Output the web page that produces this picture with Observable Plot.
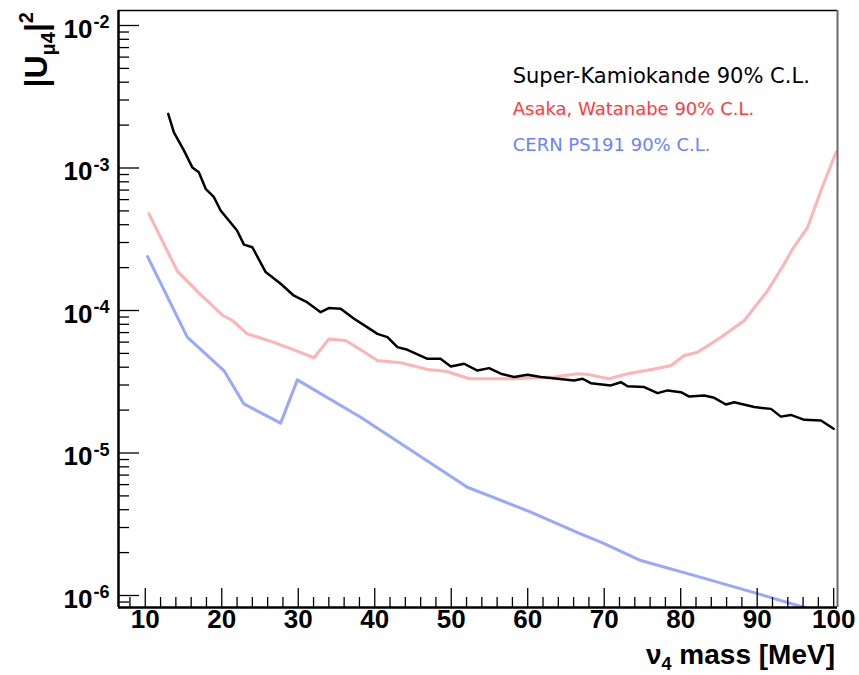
<!DOCTYPE html>
<html>
<head>
<meta charset="utf-8">
<script src="https://cdn.jsdelivr.net/npm/d3@7"></script>
<script src="https://cdn.jsdelivr.net/npm/@observablehq/plot@0.6"></script>
<style>
  html, body { margin: 0; padding: 0; background: #fff; }
  #chart svg { display: block; }
</style>
</head>
<body>
<div id="chart"></div>
<script>
// ---- data ----
const skMass = [13.0, 13.74, 15.05, 16.15, 17.0, 17.9, 18.98, 19.85, 22.0, 22.9, 24.0, 25.74, 27.7, 29.44, 31.2, 32.93, 34.0, 35.55, 37.3, 39.0, 40.35, 41.66, 42.97, 44.28, 46.9, 48.6, 49.94, 51.68, 53.43, 54.95, 56.48, 58.22, 59.97, 61.71, 63.9, 66.07, 67.17, 68.25, 70.87, 72.18, 73.05, 75.23, 76.98, 78.29, 80.03, 81.12, 83.08, 84.39, 85.92, 87.0, 89.62, 91.8, 93.1, 94.4, 96.16, 98.34, 100.0];
const skU2 = [2.4e-3, 1.78e-3, 1.33e-3, 1.01e-3, 9.35e-4, 7.14e-4, 6.24e-4, 5.03e-4, 3.64e-4, 2.9e-4, 2.78e-4, 1.86e-4, 1.54e-4, 1.27e-4, 1.14e-4, 9.73e-5, 1.04e-4, 1.03e-4, 8.75e-5, 7.64e-5, 6.86e-5, 6.5e-5, 5.53e-5, 5.3e-5, 4.58e-5, 4.58e-5, 4.04e-5, 4.23e-5, 3.79e-5, 3.94e-5, 3.6e-5, 3.41e-5, 3.54e-5, 3.41e-5, 3.32e-5, 3.23e-5, 3.32e-5, 3.09e-5, 2.98e-5, 3.14e-5, 2.94e-5, 2.9e-5, 2.63e-5, 2.75e-5, 2.67e-5, 2.49e-5, 2.53e-5, 2.44e-5, 2.19e-5, 2.27e-5, 2.1e-5, 2.04e-5, 1.8e-5, 1.85e-5, 1.71e-5, 1.69e-5, 1.48e-5];

const awMass = [10.47, 12.2, 14.19, 17.0, 20.07, 21.38, 23.34, 26.4, 29.44, 32.06, 34.02, 36.2, 38.17, 40.35, 43.4, 46.9, 49.3, 52.4, 58.0, 63.5, 66.5, 68.0, 70.6, 73.05, 76.54, 78.72, 80.46, 82.2, 85.26, 88.31, 91.37, 93.54, 94.64, 96.6, 98.34, 100.3];
const awU2 = [4.78e-4, 3.1e-4, 1.89e-4, 1.33e-4, 9.3e-5, 8.51e-5, 6.86e-5, 6.09e-5, 5.3e-5, 4.66e-5, 6.32e-5, 6.15e-5, 5.3e-5, 4.46e-5, 4.3e-5, 3.86e-5, 3.75e-5, 3.32e-5, 3.32e-5, 3.41e-5, 3.6e-5, 3.55e-5, 3.32e-5, 3.6e-5, 3.89e-5, 4.11e-5, 4.83e-5, 5.1e-5, 6.5e-5, 8.51e-5, 1.38e-4, 2.13e-4, 2.71e-4, 3.85e-4, 6.95e-4, 1.29e-3];

const psMass = [10.3, 15.49, 20.28, 22.9, 27.7, 29.88, 38.17, 52.12, 60.4, 66.9, 69.57, 74.8, 82.65, 90.06, 96.3];
const psU2 = [2.39e-4, 6.5e-5, 3.79e-5, 2.21e-5, 1.62e-5, 3.26e-5, 1.78e-5, 5.75e-6, 3.85e-6, 2.71e-6, 2.37e-6, 1.76e-6, 1.34e-6, 1.03e-6, 8.2e-7];

const seriesNames = ["Super-Kamiokande 90% C.L.", "Asaka, Watanabe 90% C.L.", "CERN PS191 90% C.L."];

const xTicks = [10, 20, 30, 40, 50, 60, 70, 80, 90, 100];
const xMinorTicks = [8, 12, 14, 16, 18, 22, 24, 26, 28, 32, 34, 36, 38, 42, 44, 46, 48, 52, 54, 56, 58, 62, 64, 66, 68, 72, 74, 76, 78, 82, 84, 86, 88, 92, 94, 96, 98];
const yTicks = [1e-6, 1e-5, 1e-4, 1e-3, 1e-2];
const yTickExponents = ["-6", "-5", "-4", "-3", "-2"];
const yMinorTicks = [9e-7,
  2e-6, 3e-6, 4e-6, 5e-6, 6e-6, 7e-6, 8e-6, 9e-6,
  2e-5, 3e-5, 4e-5, 5e-5, 6e-5, 7e-5, 8e-5, 9e-5,
  2e-4, 3e-4, 4e-4, 5e-4, 6e-4, 7e-4, 8e-4, 9e-4,
  2e-3, 3e-3, 4e-3, 5e-3, 6e-3, 7e-3, 8e-3, 9e-3];

// ---- tables ----
const sk = skMass.map((m, i) => ({m, v: skU2[i]}));
const aw = awMass.map((m, i) => ({m, v: awU2[i]}));
const ps = psMass.map((m, i) => ({m, v: psU2[i]}));
const yTickTable = yTicks.map((v, i) => ({v, e: yTickExponents[i]}));

// ---- layout ----
const W = 859, H = 675;
const mL = 118, mR = 22, mT = 10, mB = 68;
const frameW = W - mL - mR, frameH = H - mT - mB;
const xDomain = [6.5, 100.5];
const yDomain = [8.238e-7, 0.012743];

const tickFont = "'Liberation Sans', Arial, Helvetica, sans-serif";

const chart = Plot.plot({
  width: W, height: H,
  marginLeft: mL, marginRight: mR, marginTop: mT, marginBottom: mB,
  style: {background: "#fff", overflow: "visible"},
  x: {domain: xDomain, axis: null},
  y: {type: "log", domain: yDomain, axis: null},
  marks: [
    // curves
    Plot.line(ps, {x: "m", y: "v", stroke: "#99a8ff", strokeWidth: 3, clip: true}),
    Plot.line(aw, {x: "m", y: "v", stroke: "#ffb3b3", strokeWidth: 3, clip: true}),
    Plot.line(sk, {x: "m", y: "v", stroke: "#000", strokeWidth: 2.5, clip: true}),
    // inward ticks
    Plot.tickY(yTicks, {y: d => d, insetRight: frameW - 21, stroke: "#000", strokeWidth: 1.3}),
    Plot.tickY(yMinorTicks, {y: d => d, insetRight: frameW - 11, stroke: "#000", strokeWidth: 1.3}),
    Plot.tickX(xTicks, {x: d => d, insetTop: frameH - 19, stroke: "#000", strokeWidth: 1.3}),
    Plot.tickX(xMinorTicks, {x: d => d, insetTop: frameH - 10, stroke: "#000", strokeWidth: 1.3}),
    // frame
    Plot.ruleY([yDomain[1]], {stroke: "#000", strokeWidth: 1.5}),
    Plot.ruleX([xDomain[1]], {stroke: "#6a6a6a", strokeWidth: 2}),
    Plot.ruleX([xDomain[0]], {stroke: "#000", strokeWidth: 2.5}),
    Plot.ruleY([yDomain[0]], {stroke: "#000", strokeWidth: 2.5}),
    // x tick labels
    Plot.text(xTicks, {x: d => d, text: d => String(d), frameAnchor: "bottom", dy: 20,
      fontSize: 26, fontWeight: "bold", fontFamily: tickFont, fill: "#000"}),
    // y tick labels: "10" + exponent
    Plot.text(yTickTable, {y: "v", text: () => "10", frameAnchor: "left", textAnchor: "end",
      dx: -26, dy: 4, fontSize: 26, fontWeight: "bold", fontFamily: tickFont, fill: "#000"}),
    Plot.text(yTickTable, {y: "v", text: "e", frameAnchor: "left", textAnchor: "start",
      dx: -25, dy: -3, fontSize: 18, fontWeight: "bold", fontFamily: tickFont, fill: "#000"})
  ]
});

document.getElementById("chart").appendChild(chart);

// ---- titles and legend (text with sub/superscripts) ----
const svg = d3.select(chart);

// y-axis title |U_{μ4}|^2
const yt = svg.append("text")
  .attr("transform", "translate(47,12) rotate(-90)")
  .attr("text-anchor", "end")
  .attr("font-family", tickFont)
  .attr("font-weight", "bold")
  .attr("font-size", 32)
  .attr("fill", "#000");
yt.append("tspan").text("|U");
yt.append("tspan").attr("font-size", 20).attr("dy", 8).text("μ4");
yt.append("tspan").attr("dy", -8).text("|");
yt.append("tspan").attr("font-size", 20).attr("dy", -14).text("2");

// x-axis title ν_4 mass [MeV]
const xt = svg.append("text")
  .attr("x", 835).attr("y", 664)
  .attr("text-anchor", "end")
  .attr("font-family", tickFont)
  .attr("font-weight", "bold")
  .attr("font-size", 28)
  .attr("fill", "#000");
xt.append("tspan").text("ν");
xt.append("tspan").attr("font-size", 18).attr("dy", 6).text("4");
xt.append("tspan").attr("dy", -6).text(" mass [MeV]");

// legend
const legendFont = "'DejaVu Sans', Verdana, sans-serif";
const legendColors = ["#000", "#ff3b3b", "#6a82ff"];
const legendSizes = [21, 18, 18];
const legendBaselines = [83.3, 115, 150.7];
seriesNames.forEach((name, i) => {
  svg.append("text")
    .attr("x", 512.7).attr("y", legendBaselines[i])
    .attr("text-anchor", "start")
    .attr("font-family", legendFont)
    .attr("font-size", legendSizes[i])
    .attr("fill", legendColors[i])
    .text(name);
});
</script>
</body>
</html>
